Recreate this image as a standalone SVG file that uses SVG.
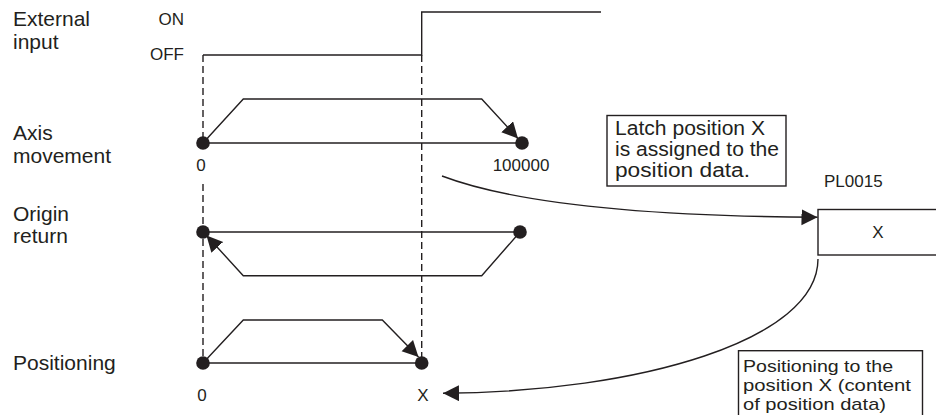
<svg xmlns="http://www.w3.org/2000/svg" width="936" height="415" viewBox="0 0 936 415">
<style>
text{font-family:"Liberation Sans",Arial,sans-serif;fill:#231f20}
.lbl{font-size:21px}
.sm{font-size:17px}
.box{font-size:20px}
.box2{font-size:17px}
.ln{fill:none;stroke:#231f20;stroke-width:1.4}
.dash{fill:none;stroke:#231f20;stroke-width:1.4;stroke-dasharray:7 4}
.dot{fill:#231f20}
.rect{fill:#fff;stroke:#231f20;stroke-width:1.4}
.arr{fill:none;stroke:#231f20;stroke-width:1.4;marker-end:url(#ah)}
</style>
<defs>
<marker id="ah" markerUnits="userSpaceOnUse" markerWidth="18" markerHeight="17" refX="16" refY="8" orient="auto">
<path d="M0,0 L16,8 L0,16 Z" fill="#231f20"/>
</marker>
</defs>
<rect width="936" height="415" fill="#fff"/>

<g id="labels">
<text class="lbl" x="13" y="26">External</text>
<text class="lbl" x="13" y="49">input</text>
<text class="lbl" x="13" y="140">Axis</text>
<text class="lbl" x="13" y="163">movement</text>
<text class="lbl" x="13" y="221">Origin</text>
<text class="lbl" x="13" y="243">return</text>
<text class="lbl" x="13" y="370">Positioning</text>
</g>

<g id="external-input">
<text class="sm" x="184" y="25" text-anchor="end">ON</text>
<text class="sm" x="184" y="60" text-anchor="end">OFF</text>
<path class="ln" d="M203,55 H421.7 V12 H601"/>
</g>

<g id="guides">
<path class="dash" d="M203,55 V143"/>
<path class="dash" d="M203,184 V363"/>
<path class="dash" d="M421.7,55 V363"/>
</g>

<g id="axis-movement">
<path class="ln" d="M203,143 H522"/>
<path class="ln" d="M203,143 L243.3,99 H481.7 L518,138.5" marker-end="url(#ah)"/>
<circle class="dot" cx="203" cy="143" r="6.8"/>
<circle class="dot" cx="522" cy="143" r="6.8"/>
<text class="sm" x="201" y="171" text-anchor="middle">0</text>
<text class="sm" x="521" y="171" text-anchor="middle">100000</text>
</g>

<g id="origin-return">
<path class="ln" d="M203,232 H520"/>
<path class="ln" d="M520,232 L481.7,275.7 H243.3 L206.5,235.5" marker-end="url(#ah)"/>
<circle class="dot" cx="203" cy="232" r="6.8"/>
<circle class="dot" cx="520" cy="232" r="6.8"/>
</g>

<g id="positioning">
<path class="ln" d="M203,363 H421.7"/>
<path class="ln" d="M203,363 L243.3,320 H382.3 L418.5,357" marker-end="url(#ah)"/>
<circle class="dot" cx="203" cy="363" r="6.8"/>
<circle class="dot" cx="421.7" cy="363" r="6.8"/>
<text class="sm" x="202" y="401" text-anchor="middle">0</text>
<text class="sm" x="423" y="401" text-anchor="middle">X</text>
</g>

<g id="latch-note">
<rect class="rect" x="607" y="115.5" width="179" height="70.5"/>
<text class="box" x="615" y="135" textLength="150" lengthAdjust="spacingAndGlyphs">Latch position X</text>
<text class="box" x="615" y="156" textLength="164" lengthAdjust="spacingAndGlyphs">is assigned to the</text>
<text class="box" x="615" y="177" textLength="135" lengthAdjust="spacingAndGlyphs">position data.</text>
</g>

<g id="pl0015">
<text class="sm" x="824" y="187">PL0015</text>
<rect class="rect" x="818" y="209.5" width="130" height="45.5"/>
<text class="sm" x="878" y="238" text-anchor="middle">X</text>
</g>

<g id="positioning-note">
<rect class="rect" x="738.5" y="350.7" width="184" height="80"/>
<text class="box2" x="743" y="372" textLength="150" lengthAdjust="spacingAndGlyphs">Positioning to the</text>
<text class="box2" x="743" y="391" textLength="168" lengthAdjust="spacingAndGlyphs">position X (content</text>
<text class="box2" x="743" y="410" textLength="143" lengthAdjust="spacingAndGlyphs">of position data)</text>
</g>

<g id="connectors">
<path class="arr" d="M442,176 C500,198 610,216 817.5,217.3"/>
<path class="arr" d="M818,259 C818,340 640,392 443,393.3"/>
</g>
</svg>
